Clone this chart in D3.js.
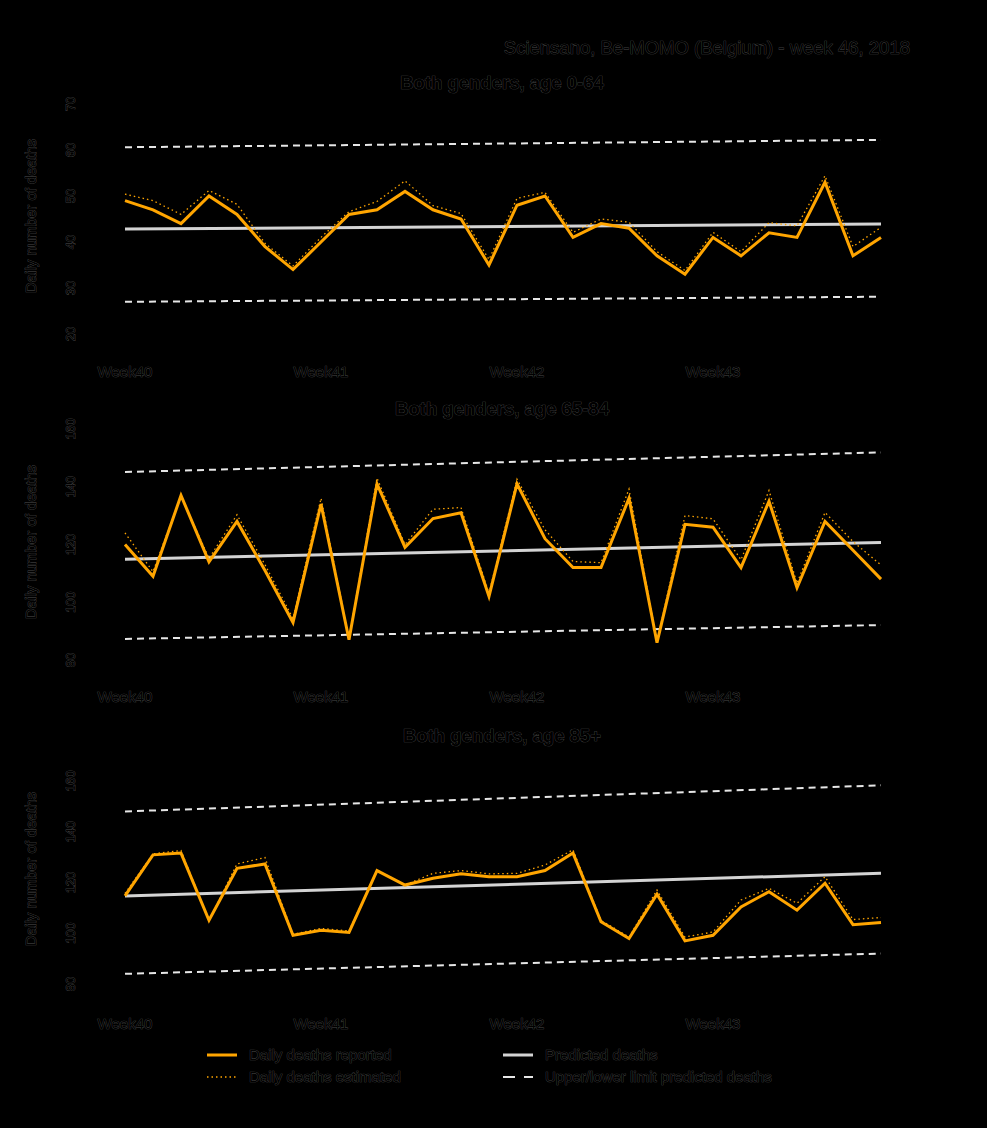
<!DOCTYPE html>
<html>
<head>
<meta charset="utf-8">
<script src="https://cdn.jsdelivr.net/npm/d3@7"></script>
<style>
html,body{margin:0;padding:0;background:#000;}
svg{display:block;}
text{font-family:"Liberation Sans",Arial,sans-serif;}
</style>
</head>
<body>
<script>
// ---- data ----
const weekLabels = ["Week40", "Week41", "Week42", "Week43"];
const weekDays = [0, 7, 14, 21];

const titles = ["Both genders, age 0-64", "Both genders, age 65-84", "Both genders, age 85+"];

const yTicks0 = [20, 30, 40, 50, 60, 70];
const yTicks1 = [80, 100, 120, 140, 160];
const yTicks2 = [80, 100, 120, 140, 160];

const reported0 = [49, 47, 44, 50, 46, 39, 34, 40, 46, 47, 51, 47, 45, 35, 48, 50, 41, 44, 43, 37, 33, 41, 37, 42, 41, 53, 37, 41];
const estimated0 = [50.4, 49, 46, 51.2, 48.2, 39.7, 34.8, 41, 46.6, 48.8, 53.3, 47.9, 46.2, 36.2, 49.5, 50.8, 42.1, 45, 44.3, 37.9, 33.8, 42.1, 37.9, 44.2, 43.5, 54.4, 39, 43.2];
const predicted0 = [42.8, 43.9];
const upper0 = [60.6, 62.2];
const lower0 = [27.0, 28.1];

const reported1 = [120, 109, 137, 114, 128, 111, 93, 134, 87, 141, 119, 129, 131, 102, 141, 122, 112, 112, 136, 86, 127, 126, 112, 135, 105, 128, 118, 108];
const estimated1 = [124, 110.6, 136.8, 115.2, 130.3, 113, 94.4, 136, 87.5, 143, 120, 132.2, 132.8, 103.1, 142.6, 125.1, 114.1, 113.7, 139.2, 86.3, 130, 128.9, 114.7, 138.7, 106.6, 131.1, 121, 112.9];
const predicted1 = [114.9, 120.7];
const upper1 = [145.1, 151.9];
const lower1 = [87.3, 92.1];

const reported2 = [114.7, 130.9, 131.6, 105.1, 125.6, 127.3, 99.2, 101.2, 100.3, 124.7, 119, 121.7, 123.4, 122.3, 122.3, 124.7, 131.6, 104.5, 97.9, 115.4, 97, 99.2, 110.4, 116.4, 109.1, 119.7, 103.4, 104.2];
const estimated2 = [115.7, 131.3, 132.6, 105.1, 127.3, 129.8, 99.6, 101.9, 100.9, 124.9, 119, 123.6, 124.7, 123.4, 123.6, 126.9, 132.9, 105.1, 98.5, 117, 98.5, 100.5, 113.1, 117.7, 111.8, 122.3, 105.4, 106.2];
const predicted2 = [114.7, 123.6];
const upper2 = [148.0, 158.3];
const lower2 = [84.0, 92.0];

const mainTitle = "Sciensano, Be-MOMO (Belgium) - week 46, 2018";
const yAxisLabel = "Daily number of deaths";
const legendLabels = ["Daily deaths reported", "Daily deaths estimated", "Predicted deaths", "Upper/lower limit predicted deaths"];

// ---- layout ----
const W = 987, H = 1128;
const ORANGE = "#FFA500", GREY = "#D3D3D3", DASH = "#E6E6E6";
const TXT = {fill: "#000", stroke: "#4a4a4a", sw: 0.7};

const svg = d3.select("body").append("svg").attr("width", W).attr("height", H);
svg.append("rect").attr("width", W).attr("height", H).attr("fill", "#000");

function txt(g, s, x, y, size, anchor, weight, rot) {
  const t = g.append("text").text(s)
    .attr("x", x).attr("y", y)
    .attr("font-size", size).attr("text-anchor", anchor || "middle")
    .attr("font-weight", weight || "normal")
    .attr("fill", TXT.fill).attr("stroke", TXT.stroke).attr("stroke-width", TXT.sw)
    .attr("paint-order", "stroke");
  if (rot) t.attr("transform", `rotate(${rot},${x},${y})`);
  return t;
}

txt(svg, mainTitle, 910, 54, 18.5, "end");

const x = d3.scaleLinear().domain([0, 27]).range([125, 881]);

const panels = [
  {title: titles[0], ticks: yTicks0, dom: [20, 70], rng: [334, 104], rep: reported0, est: estimated0, pred: predicted0, up: upper0, lo: lower0, titleY: 89, weekY: 377, labY: 216},
  {title: titles[1], ticks: yTicks1, dom: [80, 160], rng: [660, 429], rep: reported1, est: estimated1, pred: predicted1, up: upper1, lo: lower1, titleY: 415, weekY: 702, labY: 542},
  {title: titles[2], ticks: yTicks2, dom: [80, 160], rng: [984, 781], rep: reported2, est: estimated2, pred: predicted2, up: upper2, lo: lower2, titleY: 742, weekY: 1029, labY: 869}
];

panels.forEach(p => {
  const g = svg.append("g");
  const y = d3.scaleLinear().domain(p.dom).range(p.rng);
  const line = d3.line().x((d, i) => x(i)).y(d => y(d));
  const endLine = d3.line().x((d, i) => x(i * 27)).y(d => y(d));

  // y axis (black on black, as in the reference)
  const ax = g.append("g").attr("transform", "translate(88,0)")
    .call(d3.axisLeft(y).tickValues(p.ticks).tickSize(5).tickFormat(""));
  ax.selectAll("path,line").attr("stroke", "#000");
  p.ticks.forEach(t => txt(g, String(t), 75, y(t), 13, "middle", "normal", -90));

  // x axis labels
  weekDays.forEach((d, i) => txt(g, weekLabels[i], x(d), p.weekY, 15, "middle"));

  txt(g, p.title, 502, p.titleY, 18.5, "middle", "bold");
  txt(g, yAxisLabel, 36, p.labY, 15, "middle", "normal", -90);

  // limits
  [p.up, p.lo].forEach(arr => {
    g.append("path").datum(arr).attr("d", endLine)
      .attr("fill", "none").attr("stroke", DASH).attr("stroke-width", 2)
      .attr("stroke-dasharray", "7,5");
  });
  // predicted
  g.append("path").datum(p.pred).attr("d", endLine)
    .attr("fill", "none").attr("stroke", GREY).attr("stroke-width", 3);
  // estimated
  g.append("path").datum(p.est).attr("d", line)
    .attr("fill", "none").attr("stroke", ORANGE).attr("stroke-width", 1.3)
    .attr("stroke-dasharray", "1.5,3");
  // reported
  g.append("path").datum(p.rep).attr("d", line)
    .attr("fill", "none").attr("stroke", ORANGE).attr("stroke-width", 3)
    .attr("stroke-linejoin", "miter");
});

// legend
const lg = svg.append("g");
const items = [
  {x: 207, y: 1055, stroke: ORANGE, w: 3, dash: null, label: legendLabels[0]},
  {x: 207, y: 1077, stroke: ORANGE, w: 1.3, dash: "1.5,3", label: legendLabels[1]},
  {x: 503, y: 1055, stroke: GREY, w: 3, dash: null, label: legendLabels[2]},
  {x: 503, y: 1077, stroke: DASH, w: 2, dash: "12,9", label: legendLabels[3]}
];
items.forEach(it => {
  const l = lg.append("line").attr("x1", it.x).attr("x2", it.x + 30)
    .attr("y1", it.y).attr("y2", it.y)
    .attr("stroke", it.stroke).attr("stroke-width", it.w);
  if (it.dash) l.attr("stroke-dasharray", it.dash);
  txt(lg, it.label, it.x + 42, it.y + 5, 15, "start");
});
</script>
</body>
</html>
